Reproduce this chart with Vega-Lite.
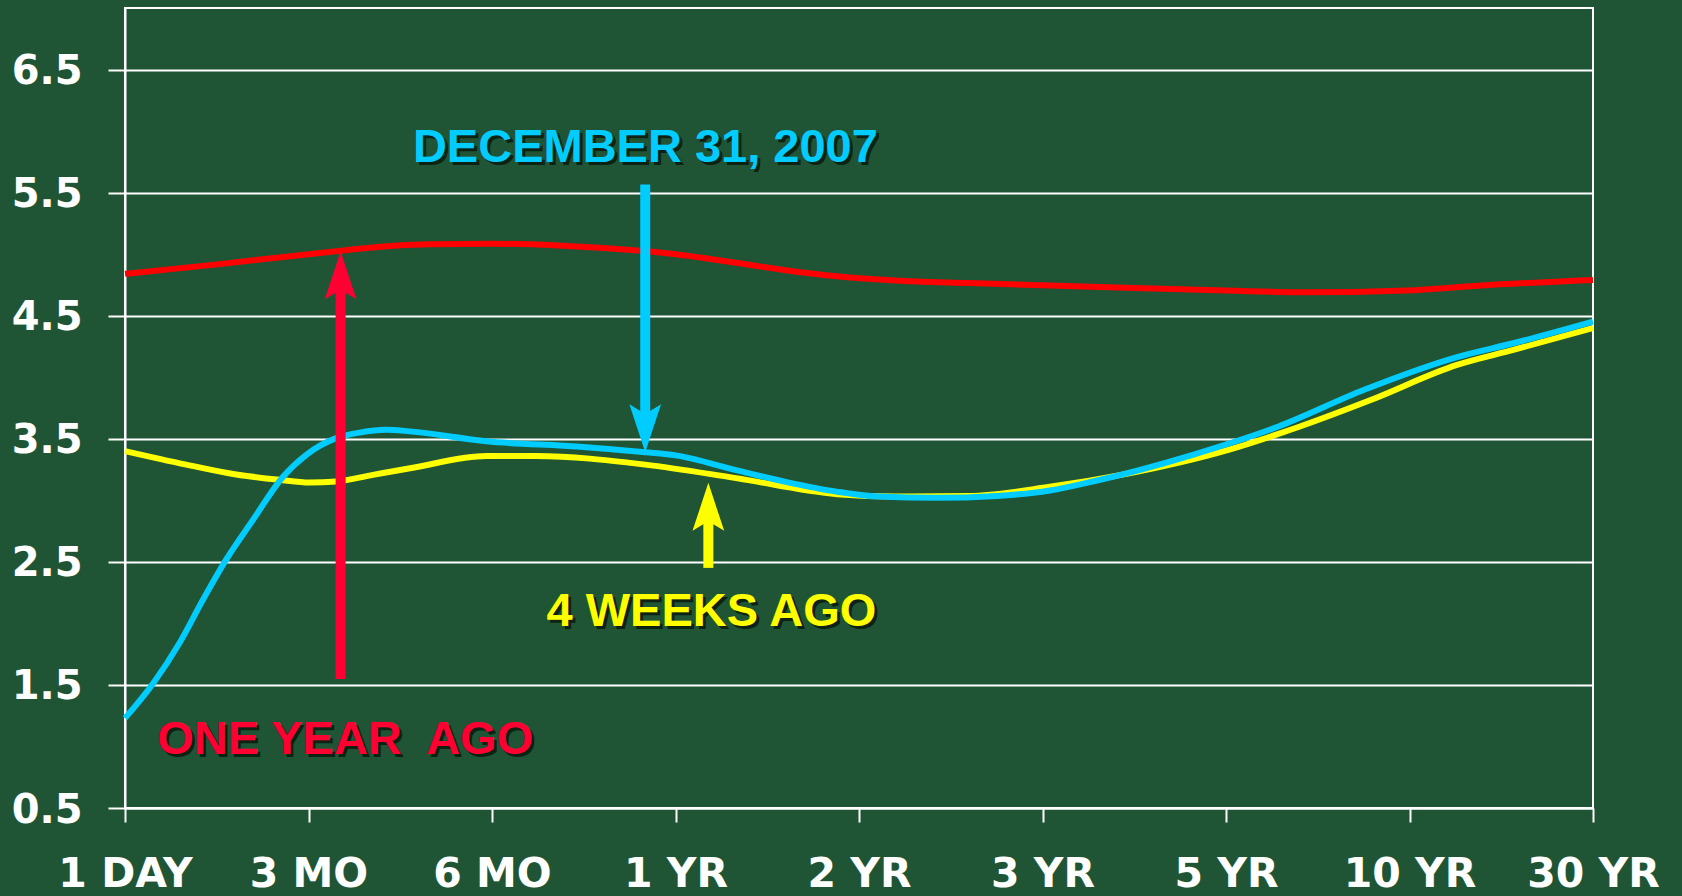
{
  "$schema": "https://vega.github.io/schema/vega-lite/v6.json",
  "width": 1468,
  "height": 800,
  "autosize": {"type": "none"},
  "padding": {"left": 125, "top": 8, "right": 89, "bottom": 88},
  "background": "#1f5535",
  "config": {
    "view": {"stroke": "#ffffff", "strokeWidth": 2},
    "axis": {
      "domainColor": "#ffffff", "domainWidth": 2,
      "tickColor": "#ffffff", "tickWidth": 2,
      "gridColor": "#ffffff", "gridWidth": 2, "gridOpacity": 1,
      "labelColor": "#ffffff", "labelFont": "DejaVu Sans", "labelFontWeight": "bold"
    }
  },
  "datasets": {
    "curves": [
      {"series": "One year ago", "t": 0, "v": 4.84},
      {"series": "One year ago", "t": 0.49, "v": 4.915},
      {"series": "One year ago", "t": 1.0, "v": 5.0},
      {"series": "One year ago", "t": 1.19, "v": 5.03},
      {"series": "One year ago", "t": 1.39, "v": 5.06},
      {"series": "One year ago", "t": 1.66, "v": 5.08},
      {"series": "One year ago", "t": 2.0, "v": 5.085},
      {"series": "One year ago", "t": 2.36, "v": 5.07},
      {"series": "One year ago", "t": 2.83, "v": 5.025},
      {"series": "One year ago", "t": 3.0, "v": 5.0},
      {"series": "One year ago", "t": 3.33, "v": 4.93},
      {"series": "One year ago", "t": 3.6, "v": 4.87},
      {"series": "One year ago", "t": 3.88, "v": 4.82},
      {"series": "One year ago", "t": 4.2, "v": 4.785},
      {"series": "One year ago", "t": 4.6, "v": 4.765},
      {"series": "One year ago", "t": 5.04, "v": 4.745},
      {"series": "One year ago", "t": 5.5, "v": 4.725},
      {"series": "One year ago", "t": 6.0, "v": 4.705},
      {"series": "One year ago", "t": 6.4, "v": 4.69},
      {"series": "One year ago", "t": 6.985, "v": 4.705},
      {"series": "One year ago", "t": 7.376, "v": 4.744},
      {"series": "One year ago", "t": 8.0, "v": 4.79},

      {"series": "4 weeks ago", "t": 0, "v": 3.4},
      {"series": "4 weeks ago", "t": 0.334, "v": 3.29},
      {"series": "4 weeks ago", "t": 0.606, "v": 3.21},
      {"series": "4 weeks ago", "t": 0.842, "v": 3.167},
      {"series": "4 weeks ago", "t": 1.006, "v": 3.145},
      {"series": "4 weeks ago", "t": 1.151, "v": 3.153},
      {"series": "4 weeks ago", "t": 1.351, "v": 3.207},
      {"series": "4 weeks ago", "t": 1.569, "v": 3.265},
      {"series": "4 weeks ago", "t": 1.97, "v": 3.36},
      {"series": "4 weeks ago", "t": 2.24, "v": 3.36},
      {"series": "4 weeks ago", "t": 2.835, "v": 3.29},
      {"series": "4 weeks ago", "t": 3.33, "v": 3.18},
      {"series": "4 weeks ago", "t": 3.88, "v": 3.05},
      {"series": "4 weeks ago", "t": 4.2, "v": 3.03},
      {"series": "4 weeks ago", "t": 4.6, "v": 3.035},
      {"series": "4 weeks ago", "t": 5.04, "v": 3.11},
      {"series": "4 weeks ago", "t": 5.429, "v": 3.207},
      {"series": "4 weeks ago", "t": 6.013, "v": 3.41},
      {"series": "4 weeks ago", "t": 6.403, "v": 3.6},
      {"series": "4 weeks ago", "t": 6.792, "v": 3.817},
      {"series": "4 weeks ago", "t": 7.259, "v": 4.1},
      {"series": "4 weeks ago", "t": 7.571, "v": 4.224},
      {"series": "4 weeks ago", "t": 8.0, "v": 4.4},

      {"series": "December 31, 2007", "t": 0, "v": 1.23},
      {"series": "December 31, 2007", "t": 0.152, "v": 1.51},
      {"series": "December 31, 2007", "t": 0.297, "v": 1.84},
      {"series": "December 31, 2007", "t": 0.424, "v": 2.19},
      {"series": "December 31, 2007", "t": 0.552, "v": 2.52},
      {"series": "December 31, 2007", "t": 0.697, "v": 2.84},
      {"series": "December 31, 2007", "t": 0.86, "v": 3.19},
      {"series": "December 31, 2007", "t": 0.988, "v": 3.37},
      {"series": "December 31, 2007", "t": 1.151, "v": 3.505},
      {"series": "December 31, 2007", "t": 1.278, "v": 3.55},
      {"series": "December 31, 2007", "t": 1.424, "v": 3.573},
      {"series": "December 31, 2007", "t": 1.551, "v": 3.56},
      {"series": "December 31, 2007", "t": 1.97, "v": 3.48},
      {"series": "December 31, 2007", "t": 2.48, "v": 3.435},
      {"series": "December 31, 2007", "t": 2.835, "v": 3.39},
      {"series": "December 31, 2007", "t": 3.0, "v": 3.365},
      {"series": "December 31, 2007", "t": 3.33, "v": 3.245},
      {"series": "December 31, 2007", "t": 3.6, "v": 3.15},
      {"series": "December 31, 2007", "t": 3.88, "v": 3.07},
      {"series": "December 31, 2007", "t": 4.11, "v": 3.03},
      {"series": "December 31, 2007", "t": 4.42, "v": 3.02},
      {"series": "December 31, 2007", "t": 4.75, "v": 3.035},
      {"series": "December 31, 2007", "t": 5.04, "v": 3.08},
      {"series": "December 31, 2007", "t": 5.274, "v": 3.153},
      {"series": "December 31, 2007", "t": 5.819, "v": 3.37},
      {"series": "December 31, 2007", "t": 6.286, "v": 3.6},
      {"series": "December 31, 2007", "t": 6.753, "v": 3.898},
      {"series": "December 31, 2007", "t": 7.259, "v": 4.164},
      {"series": "December 31, 2007", "t": 7.571, "v": 4.278},
      {"series": "December 31, 2007", "t": 8.0, "v": 4.452}
    ],
    "notes": [
      {"series": "One year ago", "label": "ONE YEAR\u00a0 AGO", "t": 1.2, "v": 1.08},
      {"series": "December 31, 2007", "label": "DECEMBER 31, 2007", "t": 2.836, "v": 5.89},
      {"series": "4 weeks ago", "label": "4 WEEKS AGO", "t": 3.196, "v": 2.12}
    ],
    "arrows": [
      {"series": "One year ago", "dir": "up", "t": 1.175, "from": 1.549, "to": 4.82, "tip": 5.023},
      {"series": "December 31, 2007", "dir": "down", "t": 2.835, "from": 5.565, "to": 3.59, "tip": 3.39},
      {"series": "4 weeks ago", "dir": "up", "t": 3.179, "from": 2.451, "to": 2.94, "tip": 3.142}
    ]
  },
  "resolve": {"scale": {"color": "independent"}},
  "layer": [
    {
      "data": {"name": "curves"},
      "mark": {"type": "line", "interpolate": "monotone", "strokeWidth": 6},
      "encoding": {
        "x": {
          "field": "t", "type": "quantitative", "title": null,
          "scale": {"domain": [0, 8], "nice": false, "zero": false},
          "axis": {
            "values": [0, 1, 2, 3, 4, 5, 6, 7, 8],
            "labelExpr": "['1 DAY','3 MO','6 MO','1 YR','2 YR','3 YR','5 YR','10 YR','30 YR'][datum.value]",
            "grid": false, "tickSize": 14, "labelPadding": 32,
            "labelFontSize": 41, "labelOverlap": false, "labelBound": false, "labelFlush": false
          }
        },
        "y": {
          "field": "v", "type": "quantitative", "title": null,
          "scale": {"domain": [0.5, 7.0], "nice": false, "zero": false},
          "axis": {
            "values": [0.5, 1.5, 2.5, 3.5, 4.5, 5.5, 6.5],
            "format": ".1f", "grid": true, "tickSize": 17, "labelPadding": 26,
            "labelFontSize": 40, "labelOffset": 2, "labelOverlap": false, "labelBound": false, "labelFlush": false
          }
        },
        "color": {
          "field": "series", "type": "nominal", "legend": null,
          "scale": {"domain": ["One year ago", "December 31, 2007", "4 weeks ago"], "range": ["#ff0000", "#00ccff", "#ffff00"]}
        }
      }
    },
    {
      "data": {"name": "arrows"},
      "mark": {"type": "rule", "strokeWidth": 10},
      "encoding": {
        "x": {"field": "t", "type": "quantitative", "title": null},
        "y": {"field": "from", "type": "quantitative", "title": null},
        "y2": {"field": "to"},
        "color": {
          "field": "series", "type": "nominal", "legend": null,
          "scale": {"domain": ["One year ago", "December 31, 2007", "4 weeks ago"], "range": ["#ff0033", "#00ccff", "#ffff00"]}
        }
      }
    },
    {
      "data": {"name": "arrows"},
      "transform": [{"filter": "datum.dir === 'up'"}],
      "mark": {"type": "point", "filled": true, "opacity": 1, "size": 2304, "shape": "M0,0 L0.66,2 L0,1.6 L-0.66,2 Z"},
      "encoding": {
        "x": {"field": "t", "type": "quantitative", "title": null},
        "y": {"field": "tip", "type": "quantitative", "title": null},
        "color": {
          "field": "series", "type": "nominal", "legend": null,
          "scale": {"domain": ["One year ago", "December 31, 2007", "4 weeks ago"], "range": ["#ff0033", "#00ccff", "#ffff00"]}
        }
      }
    },
    {
      "data": {"name": "arrows"},
      "transform": [{"filter": "datum.dir === 'down'"}],
      "mark": {"type": "point", "filled": true, "opacity": 1, "size": 2304, "shape": "M0,0 L0.66,-2 L0,-1.6 L-0.66,-2 Z"},
      "encoding": {
        "x": {"field": "t", "type": "quantitative", "title": null},
        "y": {"field": "tip", "type": "quantitative", "title": null},
        "color": {
          "field": "series", "type": "nominal", "legend": null,
          "scale": {"domain": ["One year ago", "December 31, 2007", "4 weeks ago"], "range": ["#ff0033", "#00ccff", "#ffff00"]}
        }
      }
    },
    {
      "data": {"name": "notes"},
      "mark": {"type": "text", "font": "Liberation Sans", "fontWeight": "bold", "fontSize": 47, "align": "center", "baseline": "middle", "dx": 3, "dy": 6, "color": "#0a1a0e", "opacity": 0.85},
      "encoding": {
        "x": {"field": "t", "type": "quantitative", "title": null},
        "y": {"field": "v", "type": "quantitative", "title": null},
        "text": {"field": "label"}
      }
    },
    {
      "data": {"name": "notes"},
      "mark": {"type": "text", "font": "Liberation Sans", "fontWeight": "bold", "fontSize": 47, "align": "center", "baseline": "middle", "dy": 3},
      "encoding": {
        "x": {"field": "t", "type": "quantitative", "title": null},
        "y": {"field": "v", "type": "quantitative", "title": null},
        "text": {"field": "label"},
        "color": {
          "field": "series", "type": "nominal", "legend": null,
          "scale": {"domain": ["One year ago", "December 31, 2007", "4 weeks ago"], "range": ["#ff0033", "#00ccff", "#ffff00"]}
        }
      }
    }
  ]
}
